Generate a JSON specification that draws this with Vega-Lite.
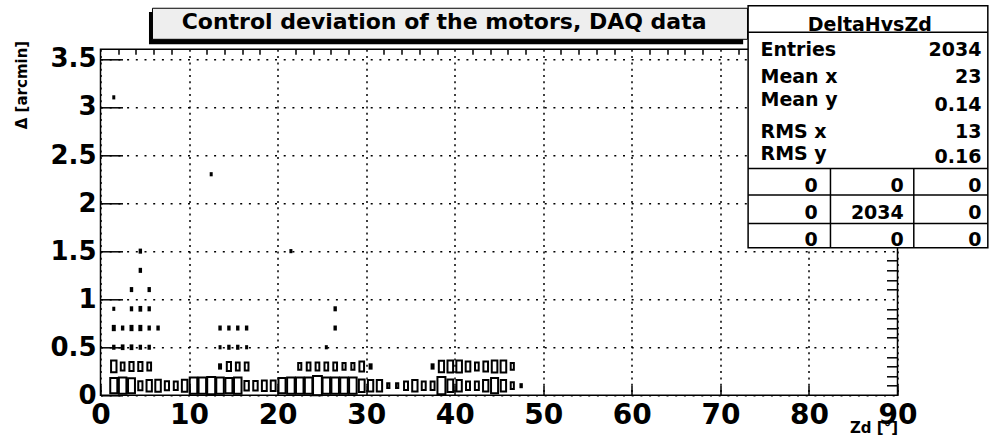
{
  "$schema": "https://vega.github.io/schema/vega-lite/v6.json",
  "width": 797,
  "height": 346,
  "autosize": {"type": "none"},
  "padding": {"left": 100.5, "top": 49.3, "right": 92.5, "bottom": 44.7},
  "background": "white",
  "config": {
    "view": {"stroke": "black", "strokeWidth": 1.5},
    "font": "DejaVu Sans",
    "text": {"font": "DejaVu Sans", "fontWeight": "bold", "fontSize": 19, "color": "black", "baseline": "alphabetic"},
    "axis": {"labelFont": "DejaVu Sans", "labelFontWeight": "bold", "labelColor": "black", "tickColor": "black", "domain": false, "titleFont": "DejaVu Sans", "titleFontWeight": "bold", "titleColor": "black"}
  },
  "resolve": {"axis": {"x": "independent", "y": "independent"}},
  "layer": [
    {
      "data": {"values": [
        {"zd": 1.5, "d": 0.1, "n": 51}, {"zd": 2.5, "d": 0.1, "n": 58}, {"zd": 3.5, "d": 0.1, "n": 49}, {"zd": 4.5, "d": 0.1, "n": 18},
        {"zd": 5.5, "d": 0.1, "n": 29}, {"zd": 6.5, "d": 0.1, "n": 31}, {"zd": 7.5, "d": 0.1, "n": 18}, {"zd": 8.5, "d": 0.1, "n": 16},
        {"zd": 9.5, "d": 0.1, "n": 31}, {"zd": 10.5, "d": 0.1, "n": 58}, {"zd": 11.5, "d": 0.1, "n": 58}, {"zd": 12.5, "d": 0.1, "n": 65},
        {"zd": 13.5, "d": 0.1, "n": 58}, {"zd": 14.5, "d": 0.1, "n": 51}, {"zd": 15.5, "d": 0.1, "n": 58}, {"zd": 16.5, "d": 0.1, "n": 20},
        {"zd": 17.5, "d": 0.1, "n": 20}, {"zd": 18.5, "d": 0.1, "n": 24}, {"zd": 19.5, "d": 0.1, "n": 24}, {"zd": 20.5, "d": 0.1, "n": 51},
        {"zd": 21.5, "d": 0.1, "n": 58}, {"zd": 22.5, "d": 0.1, "n": 58}, {"zd": 23.5, "d": 0.1, "n": 58}, {"zd": 24.5, "d": 0.1, "n": 80},
        {"zd": 25.5, "d": 0.1, "n": 58}, {"zd": 26.5, "d": 0.1, "n": 58}, {"zd": 27.5, "d": 0.1, "n": 58}, {"zd": 28.5, "d": 0.1, "n": 58},
        {"zd": 29.5, "d": 0.1, "n": 34}, {"zd": 30.5, "d": 0.1, "n": 29}, {"zd": 31.5, "d": 0.1, "n": 29}, {"zd": 32.5, "d": 0.1, "n": 5},
        {"zd": 33.5, "d": 0.1, "n": 5}, {"zd": 34.5, "d": 0.1, "n": 16}, {"zd": 35.5, "d": 0.1, "n": 29}, {"zd": 36.5, "d": 0.1, "n": 16},
        {"zd": 37.5, "d": 0.1, "n": 16}, {"zd": 38.5, "d": 0.1, "n": 65}, {"zd": 39.5, "d": 0.1, "n": 34}, {"zd": 40.5, "d": 0.1, "n": 29},
        {"zd": 41.5, "d": 0.1, "n": 16}, {"zd": 42.5, "d": 0.1, "n": 16}, {"zd": 43.5, "d": 0.1, "n": 29}, {"zd": 44.5, "d": 0.1, "n": 51},
        {"zd": 45.5, "d": 0.1, "n": 29}, {"zd": 46.5, "d": 0.1, "n": 10}, {"zd": 47.5, "d": 0.1, "n": 2},
        {"zd": 1.5, "d": 0.3, "n": 30}, {"zd": 2.5, "d": 0.3, "n": 14}, {"zd": 3.5, "d": 0.3, "n": 18}, {"zd": 4.5, "d": 0.3, "n": 18},
        {"zd": 5.5, "d": 0.3, "n": 14}, {"zd": 13.5, "d": 0.3, "n": 4}, {"zd": 14.5, "d": 0.3, "n": 18}, {"zd": 15.5, "d": 0.3, "n": 14},
        {"zd": 16.5, "d": 0.3, "n": 14}, {"zd": 22.5, "d": 0.3, "n": 10}, {"zd": 23.5, "d": 0.3, "n": 14}, {"zd": 24.5, "d": 0.3, "n": 14},
        {"zd": 25.5, "d": 0.3, "n": 14}, {"zd": 26.5, "d": 0.3, "n": 14}, {"zd": 27.5, "d": 0.3, "n": 10}, {"zd": 28.5, "d": 0.3, "n": 10},
        {"zd": 29.5, "d": 0.3, "n": 22}, {"zd": 30.5, "d": 0.3, "n": 4}, {"zd": 37.5, "d": 0.3, "n": 4}, {"zd": 38.5, "d": 0.3, "n": 28},
        {"zd": 39.5, "d": 0.3, "n": 32}, {"zd": 40.5, "d": 0.3, "n": 32}, {"zd": 41.5, "d": 0.3, "n": 22}, {"zd": 42.5, "d": 0.3, "n": 14},
        {"zd": 43.5, "d": 0.3, "n": 22}, {"zd": 44.5, "d": 0.3, "n": 32}, {"zd": 45.5, "d": 0.3, "n": 32}, {"zd": 46.5, "d": 0.3, "n": 10},
        {"zd": 1.5, "d": 0.5, "n": 2}, {"zd": 2.5, "d": 0.5, "n": 3}, {"zd": 3.5, "d": 0.5, "n": 3}, {"zd": 4.5, "d": 0.5, "n": 2},
        {"zd": 5.5, "d": 0.5, "n": 2}, {"zd": 13.5, "d": 0.5, "n": 1}, {"zd": 14.5, "d": 0.5, "n": 2}, {"zd": 15.5, "d": 0.5, "n": 2},
        {"zd": 16.5, "d": 0.5, "n": 1}, {"zd": 25.5, "d": 0.5, "n": 1},
        {"zd": 1.5, "d": 0.7, "n": 4}, {"zd": 2.5, "d": 0.7, "n": 2}, {"zd": 3.5, "d": 0.7, "n": 4}, {"zd": 4.5, "d": 0.7, "n": 4},
        {"zd": 5.5, "d": 0.7, "n": 2}, {"zd": 6.5, "d": 0.7, "n": 2}, {"zd": 13.5, "d": 0.7, "n": 2}, {"zd": 14.5, "d": 0.7, "n": 2},
        {"zd": 15.5, "d": 0.7, "n": 2}, {"zd": 16.5, "d": 0.7, "n": 2}, {"zd": 26.5, "d": 0.7, "n": 2},
        {"zd": 1.5, "d": 0.9, "n": 1}, {"zd": 3.5, "d": 0.9, "n": 2}, {"zd": 4.5, "d": 0.9, "n": 3}, {"zd": 5.5, "d": 0.9, "n": 2},
        {"zd": 26.5, "d": 0.9, "n": 2},
        {"zd": 3.5, "d": 1.1, "n": 2}, {"zd": 5.5, "d": 1.1, "n": 2}, {"zd": 4.5, "d": 1.3, "n": 2},
        {"zd": 4.5, "d": 1.5, "n": 2}, {"zd": 21.5, "d": 1.5, "n": 1}, {"zd": 12.5, "d": 2.3, "n": 1}, {"zd": 1.5, "d": 3.1, "n": 1}
      ]},
      "mark": {"type": "point", "shape": "M-0.4611,-1H0.4611V1H-0.4611Z", "filled": false, "stroke": "black", "strokeWidth": 2, "opacity": 1},
      "encoding": {
        "x": {"field": "zd", "type": "quantitative", "scale": {"domain": [0, 90], "nice": false, "zero": false},
          "axis": {"values": [0, 10, 20, 30, 40, 50, 60, 70, 80, 90], "tickSize": -10, "tickWidth": 1.5, "labelFontSize": 28, "labelPadding": 16, "labelFlush": false,
            "grid": true, "gridColor": "black", "gridDash": [2, 4.3], "gridWidth": 1.5, "gridOpacity": 1,
            "title": "Zd [°]", "titleFontSize": 15, "titleAnchor": "end", "titleBaseline": "alphabetic", "titleY": 37}},
        "y": {"field": "d", "type": "quantitative", "scale": {"domain": [0, 3.6], "nice": false, "zero": true},
          "axis": {"values": [0, 0.5, 1, 1.5, 2, 2.5, 3, 3.5], "format": "~g", "tickSize": -22, "tickWidth": 1.5, "labelFontSize": 26, "labelPadding": 26.5, "labelFlush": false, "labelBaseline": "middle",
            "grid": true, "gridColor": "black", "gridDash": [2, 6.7], "gridWidth": 1.5, "gridOpacity": 1,
            "title": "Δ [arcmin]", "titleFontSize": 15, "titleAnchor": "end", "titleAngle": -90, "titleBaseline": "alphabetic", "titleX": -74.5, "titleY": -9}},
        "size": {"field": "n", "type": "quantitative", "scale": {"type": "linear", "domain": [0, 80], "range": [0, 369], "zero": true}, "legend": null}
      }
    },
    {
      "data": {"values": [{}]},
      "mark": {"type": "rect", "fill": "black", "clip": false},
      "encoding": {
        "x": {"datum": 5.475, "type": "quantitative", "scale": {"domain": [0, 90]},
          "axis": {"values": [2, 4, 6, 8, 12, 14, 16, 18, 22, 24, 26, 28, 32, 34, 36, 38, 42, 44, 46, 48, 52, 54, 56, 58, 62, 64, 66, 68, 72, 74, 76, 78, 82, 84, 86, 88], "tickSize": -5, "tickWidth": 1.5, "labels": false, "grid": false, "title": null}},
        "x2": {"datum": 72.57},
        "y": {"datum": 3.988, "type": "quantitative", "scale": {"domain": [0, 3.6]},
          "axis": {"values": [0.1, 0.2, 0.3, 0.4, 0.6, 0.7, 0.8, 0.9, 1.1, 1.2, 1.3, 1.4, 1.6, 1.7, 1.8, 1.9, 2.1, 2.2, 2.3, 2.4, 2.6, 2.7, 2.8, 2.9, 3.1, 3.2, 3.3, 3.4, 3.6], "tickSize": -11, "tickWidth": 1.5, "labels": false, "grid": false, "title": null}},
        "y2": {"datum": 3.652}
      }
    },
    {
      "data": {"values": [{}]},
      "mark": {"type": "rect", "fill": "#eeeeee", "stroke": "black", "strokeWidth": 1, "clip": false},
      "encoding": {
        "x": {"datum": 5.87, "type": "quantitative", "axis": null}, "x2": {"datum": 73.06},
        "y": {"datum": 4.027, "type": "quantitative", "axis": null}, "y2": {"datum": 3.704}
      }
    },
    {
      "data": {"values": [{}]},
      "mark": {"type": "text", "text": "Control deviation of the motors, DAQ data", "fontSize": 22, "align": "center", "clip": false},
      "encoding": {"x": {"datum": 38.8, "type": "quantitative", "axis": null}, "y": {"datum": 3.808, "type": "quantitative", "axis": null}}
    },
    {
      "data": {"values": [{}]},
      "mark": {"type": "rect", "fill": "white", "stroke": "black", "strokeWidth": 1.5, "clip": false},
      "encoding": {
        "x": {"datum": 73.13, "type": "quantitative", "axis": null}, "x2": {"datum": 100.2},
        "y": {"datum": 4.054, "type": "quantitative", "axis": null}, "y2": {"datum": 1.536}
      }
    },
    {"data": {"values": [{}]}, "mark": {"type": "rule", "stroke": "black", "strokeWidth": 1.5, "clip": false},
      "encoding": {"x": {"datum": 73.13, "type": "quantitative", "axis": null}, "x2": {"datum": 100.2}, "y": {"datum": 3.777, "type": "quantitative", "axis": null}}},
    {"data": {"values": [{}]}, "mark": {"type": "rule", "stroke": "black", "strokeWidth": 1.5, "clip": false},
      "encoding": {"x": {"datum": 73.13, "type": "quantitative", "axis": null}, "x2": {"datum": 100.2}, "y": {"datum": 2.361, "type": "quantitative", "axis": null}}},
    {"data": {"values": [{}]}, "mark": {"type": "rule", "stroke": "black", "strokeWidth": 1.5, "clip": false},
      "encoding": {"x": {"datum": 73.13, "type": "quantitative", "axis": null}, "x2": {"datum": 100.2}, "y": {"datum": 2.083, "type": "quantitative", "axis": null}}},
    {"data": {"values": [{}]}, "mark": {"type": "rule", "stroke": "black", "strokeWidth": 1.5, "clip": false},
      "encoding": {"x": {"datum": 73.13, "type": "quantitative", "axis": null}, "x2": {"datum": 100.2}, "y": {"datum": 1.788, "type": "quantitative", "axis": null}}},
    {"data": {"values": [{}]}, "mark": {"type": "rule", "stroke": "black", "strokeWidth": 1.5, "clip": false},
      "encoding": {"x": {"datum": 82.43, "type": "quantitative", "axis": null}, "y": {"datum": 2.361, "type": "quantitative", "axis": null}, "y2": {"datum": 1.536}}},
    {"data": {"values": [{}]}, "mark": {"type": "rule", "stroke": "black", "strokeWidth": 1.5, "clip": false},
      "encoding": {"x": {"datum": 91.84, "type": "quantitative", "axis": null}, "y": {"datum": 2.361, "type": "quantitative", "axis": null}, "y2": {"datum": 1.536}}},
    {"data": {"values": [{}]}, "mark": {"type": "text", "text": "DeltaHvsZd", "align": "center", "clip": false},
      "encoding": {"x": {"datum": 86.87, "type": "quantitative", "axis": null}, "y": {"datum": 3.793, "type": "quantitative", "axis": null}}},
    {"data": {"values": [{}]}, "mark": {"type": "text", "text": "Entries", "align": "left", "clip": false},
      "encoding": {"x": {"datum": 74.53, "type": "quantitative", "axis": null}, "y": {"datum": 3.53, "type": "quantitative", "axis": null}}},
    {"data": {"values": [{}]}, "mark": {"type": "text", "text": ["Mean x", "Mean y"], "lineHeight": 22.7, "align": "left", "clip": false},
      "encoding": {"x": {"datum": 74.53, "type": "quantitative", "axis": null}, "y": {"datum": 3.246, "type": "quantitative", "axis": null}}},
    {"data": {"values": [{}]}, "mark": {"type": "text", "text": ["RMS x", "RMS y"], "lineHeight": 21.7, "align": "left", "clip": false},
      "encoding": {"x": {"datum": 74.53, "type": "quantitative", "axis": null}, "y": {"datum": 2.673, "type": "quantitative", "axis": null}}},
    {"data": {"values": [{}]}, "mark": {"type": "text", "text": "2034", "align": "right", "clip": false},
      "encoding": {"x": {"datum": 99.48, "type": "quantitative", "axis": null}, "y": {"datum": 3.53, "type": "quantitative", "axis": null}}},
    {"data": {"values": [{}]}, "mark": {"type": "text", "text": ["23", "0.14"], "lineHeight": 27.7, "align": "right", "clip": false},
      "encoding": {"x": {"datum": 99.48, "type": "quantitative", "axis": null}, "y": {"datum": 3.246, "type": "quantitative", "axis": null}}},
    {"data": {"values": [{}]}, "mark": {"type": "text", "text": ["13", "0.16"], "lineHeight": 25, "align": "right", "clip": false},
      "encoding": {"x": {"datum": 99.48, "type": "quantitative", "axis": null}, "y": {"datum": 2.673, "type": "quantitative", "axis": null}}},
    {"data": {"values": [{}]}, "mark": {"type": "text", "text": ["0", "0", "0"], "lineHeight": 27.2, "align": "right", "clip": false},
      "encoding": {"x": {"datum": 81.0, "type": "quantitative", "axis": null}, "y": {"datum": 2.117, "type": "quantitative", "axis": null}}},
    {"data": {"values": [{}]}, "mark": {"type": "text", "text": ["0", "2034", "0"], "lineHeight": 27.2, "align": "right", "clip": false},
      "encoding": {"x": {"datum": 90.71, "type": "quantitative", "axis": null}, "y": {"datum": 2.117, "type": "quantitative", "axis": null}}},
    {"data": {"values": [{}]}, "mark": {"type": "text", "text": ["0", "0", "0"], "lineHeight": 27.2, "align": "right", "clip": false},
      "encoding": {"x": {"datum": 99.48, "type": "quantitative", "axis": null}, "y": {"datum": 2.117, "type": "quantitative", "axis": null}}}
  ]
}
